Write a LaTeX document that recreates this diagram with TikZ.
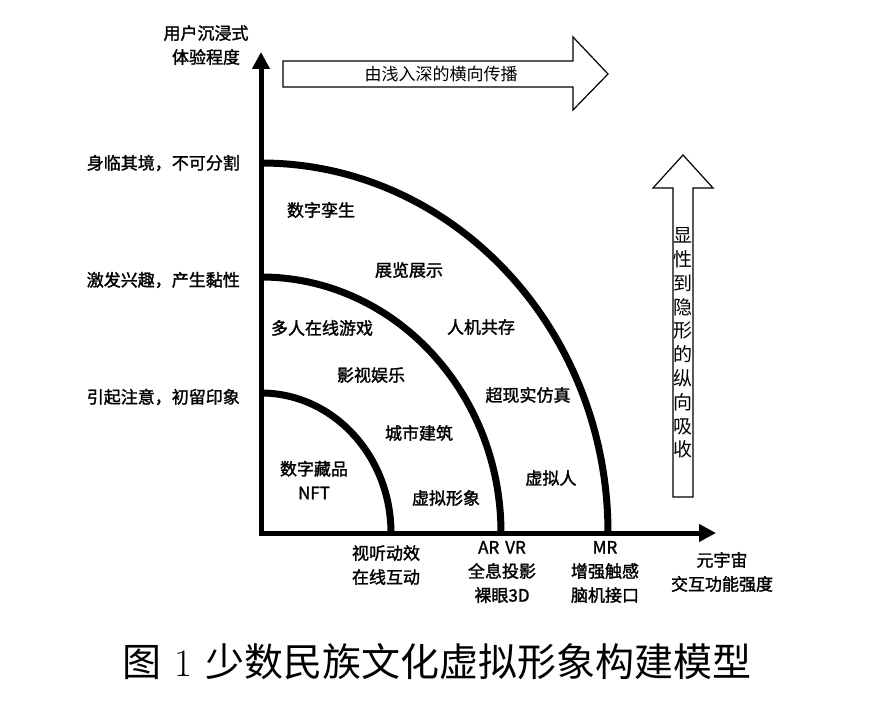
\documentclass[tikz,border=0pt]{standalone}
\usepackage{fontspec}
\usepackage{tikz}
\usetikzlibrary{arrows.meta}
\newfontfamily\cjk{Noto Sans CJK SC}
\newfontfamily\cjkm{Noto Sans CJK SC}[FakeBold=1.6]

\begin{document}
\begin{tikzpicture}[
        x=1pt, y=1pt,
        axis/.style={
            line width=5pt,
            {Triangle[length=17pt,width=17pt]}-{Triangle[length=17pt,width=17pt]}
        },
        ring/.style={line width=7pt},
        blockarrow/.style={draw, line width=1.2pt, fill=white},
        lbl/.style={
            font=\fontsize{17}{24}\selectfont\cjkm,
            align=center,
            inner sep=0pt
        },
        thin/.style={
            font=\fontsize{17}{24}\selectfont\cjk,
            align=center,
            inner sep=0pt
        }
    ]
        \useasboundingbox (-261,-172) rectangle (614,533);

        % Axes
        \coordinate (O) at (0,0);
        \coordinate (ytip) at (0,481);
        \coordinate (xtip) at (455,0);
        \draw[axis] (ytip) -- (O) -- (xtip);

        % Rings
        \foreach \rx/\ry in {130/140,240/256,347/370} {
            \draw[ring] (0,\ry) arc[start angle=90, end angle=0, x radius=\rx, y radius=\ry];
        }

        % Horizontal block arrow
        \draw[blockarrow] (22,446) -- (312,446) -- (312,423) -- (347,459)
            -- (312,496) -- (312,472) -- (22,472) -- cycle;
        \node[thin] (spread) at (180,459) {由浅入深的横向传播};

        % Vertical block arrow
        \draw[blockarrow] (412,36) -- (432,36) -- (432,345) -- (452,345)
            -- (422,378) -- (392,345) -- (412,345) -- cycle;
        \node[thin, font=\fontsize{19}{23.8}\selectfont\cjk] (absorb) at (422,190)
            {显\\性\\到\\隐\\形\\的\\纵\\向\\吸\\收};

        % Axis names
        \node[lbl] (yname) at (-55,488) {用户沉浸式\\体验程度};
        \node[lbl] (xname) at (461,-39) {元宇宙\\交互功能强度};

        % Levels on the left
        \foreach \y/\t [count=\i] in {370/身临其境，不可分割,253/激发兴趣，产生黏性,136/引起注意，初留印象} {
            \node[lbl, anchor=east] (level\i) at (-21,\y) {\t};
        }

        % Contents of the rings
        \node[lbl] (twin) at (60,323) {数字孪生};
        \node[lbl] (expo) at (148,263) {展览展示};
        \node[lbl] (game) at (61,205) {多人在线游戏};
        \node[lbl] (film) at (110,158) {影视娱乐};
        \node[lbl] (coexist) at (220,206) {人机共存};
        \node[lbl] (surreal) at (267,138) {超现实仿真};
        \node[lbl] (city) at (158,100) {城市建筑};
        \node[lbl] (nft) at (53,53) {数字藏品\\NFT};
        \node[lbl] (avatar) at (185,35) {虚拟形象};
        \node[lbl] (human) at (290,55) {虚拟人};

        % Technologies below
        \node[lbl] (tech1) at (125,-32) {视听动效\\在线互动};
        \node[lbl] (tech2) at (241,-39) {AR\hspace{6pt}VR\\全息投影\\裸眼3D};
        \node[lbl] (tech3) at (344,-39) {MR\\增强触感\\脑机接口};

        % Caption
        \node[inner sep=0pt, font=\fontsize{39}{39}\selectfont] (caption) at (176,-129)
            {{\cjk 图}\hspace{13pt}1\hspace{13pt}{\cjk 少数民族文化虚拟形象构建模型}};
    \end{tikzpicture}
\end{document}
